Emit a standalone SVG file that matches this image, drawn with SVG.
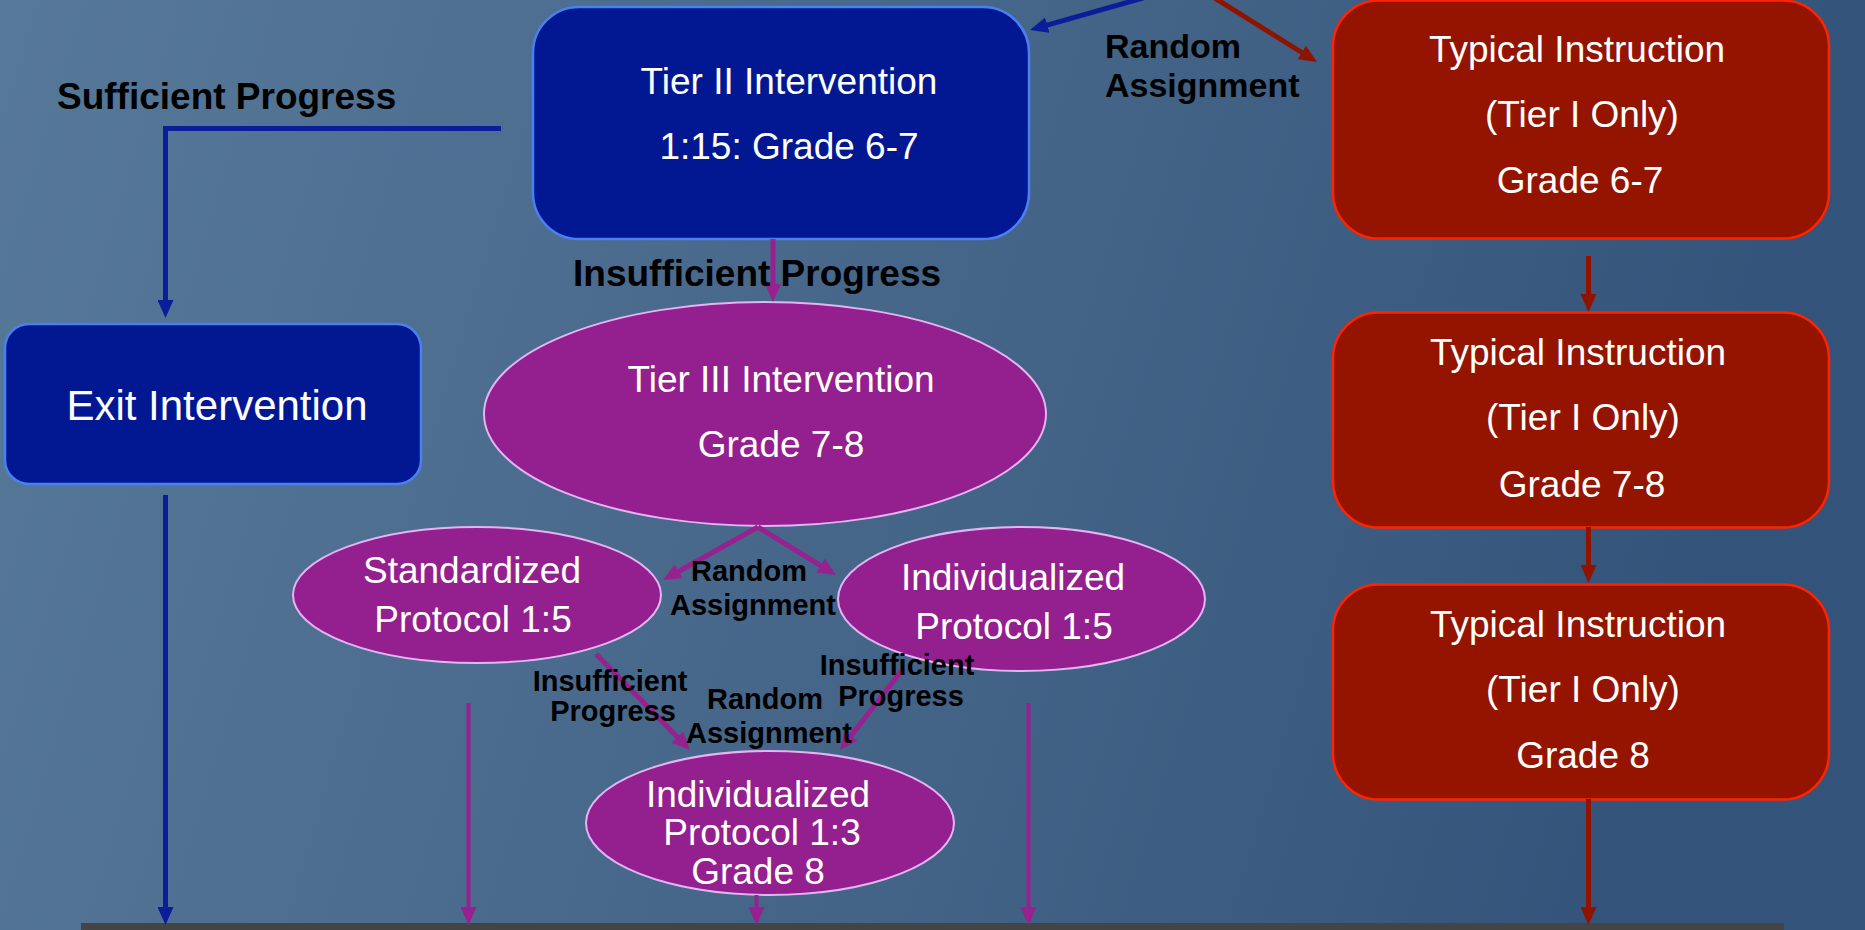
<svg xmlns="http://www.w3.org/2000/svg" width="1865" height="930" viewBox="0 0 1865 930">
<defs>
<linearGradient id="bg" x1="0" y1="0" x2="1" y2="0.15">
<stop offset="0" stop-color="#577999"/>
<stop offset="0.5" stop-color="#47678a"/>
<stop offset="1" stop-color="#33537a"/>
</linearGradient>
<marker id="ab" markerUnits="userSpaceOnUse" markerWidth="18" markerHeight="16" refX="2" refY="8" orient="auto"><path d="M0,0 L18,8 L0,16 z" fill="#0a1e9a"/></marker>
<marker id="ap" markerUnits="userSpaceOnUse" markerWidth="18" markerHeight="16" refX="2" refY="8" orient="auto"><path d="M0,0 L18,8 L0,16 z" fill="#97218f"/></marker>
<marker id="ar" markerUnits="userSpaceOnUse" markerWidth="18" markerHeight="16" refX="2" refY="8" orient="auto"><path d="M0,0 L18,8 L0,16 z" fill="#8f1400"/></marker>
</defs>
<style>
.blue{fill:#021893;stroke:#4a80f0;stroke-width:2.5}
.red{fill:#941400;stroke:#ff2400;stroke-width:2.5}
.pur{fill:#94208f;stroke:#e2b4f2;stroke-width:2}
.t{font-family:"Liberation Sans",Arial,sans-serif;fill:#ffffff;font-size:37px;text-anchor:middle}
.lb{font-family:"Liberation Sans",Arial,sans-serif;fill:#000000;font-weight:bold}
.cb{fill:none;stroke:#0a1e9a;stroke-width:5}
.cp{fill:none;stroke:#97218f;stroke-width:5}
.cp4{fill:none;stroke:#97218f;stroke-width:4}
.cr{fill:none;stroke:#8f1400;stroke-width:5}
</style>
<rect x="0" y="0" width="1865" height="930" fill="url(#bg)"/>
<rect x="81" y="923" width="1703" height="9" fill="#444444"/>

<g id="tier2">
<rect class="blue" x="533" y="7" width="496" height="232" rx="46" ry="46"/>
<text class="t" x="789" y="94">Tier II Intervention</text>
<text class="t" x="789" y="159">1:15: Grade 6-7</text>
</g>
<g id="typical1">
<rect class="red" x="1333" y="0.5" width="496" height="238" rx="46" ry="46"/>
<text class="t" x="1577" y="62">Typical Instruction</text>
<text class="t" x="1582" y="127">(Tier I Only)</text>
<text class="t" x="1580" y="193">Grade 6-7</text>
</g>
<g id="typical2">
<rect class="red" x="1333" y="312.5" width="496" height="215" rx="46" ry="46"/>
<text class="t" x="1578" y="365">Typical Instruction</text>
<text class="t" x="1583" y="430">(Tier I Only)</text>
<text class="t" x="1582" y="497">Grade 7-8</text>
</g>
<g id="typical3">
<rect class="red" x="1333" y="584.5" width="496" height="215" rx="46" ry="46"/>
<text class="t" x="1578" y="637">Typical Instruction</text>
<text class="t" x="1583" y="702">(Tier I Only)</text>
<text class="t" x="1583" y="768">Grade 8</text>
</g>
<g id="exit">
<rect class="blue" x="5" y="324" width="416" height="160" rx="24" ry="24"/>
<text class="t" x="217" y="420" style="font-size:42px">Exit Intervention</text>
</g>
<g id="tier3">
<ellipse class="pur" cx="765" cy="414" rx="281" ry="112"/>
<text class="t" x="781" y="392">Tier III Intervention</text>
<text class="t" x="781" y="457">Grade 7-8</text>
</g>
<g id="standardized">
<ellipse class="pur" cx="477" cy="595" rx="184" ry="68"/>
<text class="t" x="472" y="583">Standardized</text>
<text class="t" x="473" y="632">Protocol 1:5</text>
</g>
<g id="individualized15">
<ellipse class="pur" cx="1021.5" cy="599" rx="183.5" ry="72"/>
<text class="t" x="1013" y="590">Individualized</text>
<text class="t" x="1014" y="639">Protocol 1:5</text>
</g>
<g id="individualized13">
<ellipse class="pur" cx="770" cy="823" rx="184" ry="72"/>
<text class="t" x="758" y="807">Individualized</text>
<text class="t" x="762" y="845">Protocol 1:3</text>
<text class="t" x="758" y="884">Grade 8</text>
</g>

<g id="connectors">
<path class="cb" d="M1150,-4 L1045.4,25.6" marker-end="url(#ab)"/>
<path class="cr" d="M1211.6,-4 L1303.4,53.5" marker-end="url(#ar)"/>
<path class="cb" d="M501,128.5 H165.5 V302" marker-end="url(#ab)"/>
<path class="cp" d="M773,239 V286" marker-end="url(#ap)"/>
<path class="cp" d="M758,527 L677,572.2" marker-end="url(#ap)"/>
<path class="cp" d="M758,527 L822.3,566.7" marker-end="url(#ap)"/>
<path class="cp" d="M596,654 L678.8,738.6" marker-end="url(#ap)"/>
<path class="cp" d="M902,670 L849.8,737.4" marker-end="url(#ap)"/>
<path class="cb" d="M165.5,495 V909" marker-end="url(#ab)"/>
<path class="cp4" d="M468.5,703 V909" marker-end="url(#ap)"/>
<path class="cp4" d="M1028.5,703 V909" marker-end="url(#ap)"/>
<path class="cp4" d="M756.5,895 V909" marker-end="url(#ap)"/>
<path class="cr" d="M1588.5,256 V296" marker-end="url(#ar)"/>
<path class="cr" d="M1588.5,527 V567" marker-end="url(#ar)"/>
<path class="cr" d="M1588.5,799 V909" marker-end="url(#ar)"/>
</g>

<g id="labels">
<text class="lb" x="57" y="109" style="font-size:37px">Sufficient Progress</text>
<text class="lb" x="573" y="286" style="font-size:37px">Insufficient Progress</text>
<text class="lb" x="1105" y="58" style="font-size:34px">Random</text>
<text class="lb" x="1105" y="97" style="font-size:34px">Assignment</text>
<text class="lb" x="749" y="581" style="font-size:29px;text-anchor:middle">Random</text>
<text class="lb" x="753" y="615" style="font-size:29px;text-anchor:middle">Assignment</text>
<text class="lb" x="610" y="691" style="font-size:29px;text-anchor:middle">Insufficient</text>
<text class="lb" x="613" y="721" style="font-size:29px;text-anchor:middle">Progress</text>
<text class="lb" x="765" y="709" style="font-size:29px;text-anchor:middle">Random</text>
<text class="lb" x="769" y="743" style="font-size:29px;text-anchor:middle">Assignment</text>
<text class="lb" x="897" y="675" style="font-size:29px;text-anchor:middle">Insufficient</text>
<text class="lb" x="901" y="706" style="font-size:29px;text-anchor:middle">Progress</text>
</g>
</svg>
